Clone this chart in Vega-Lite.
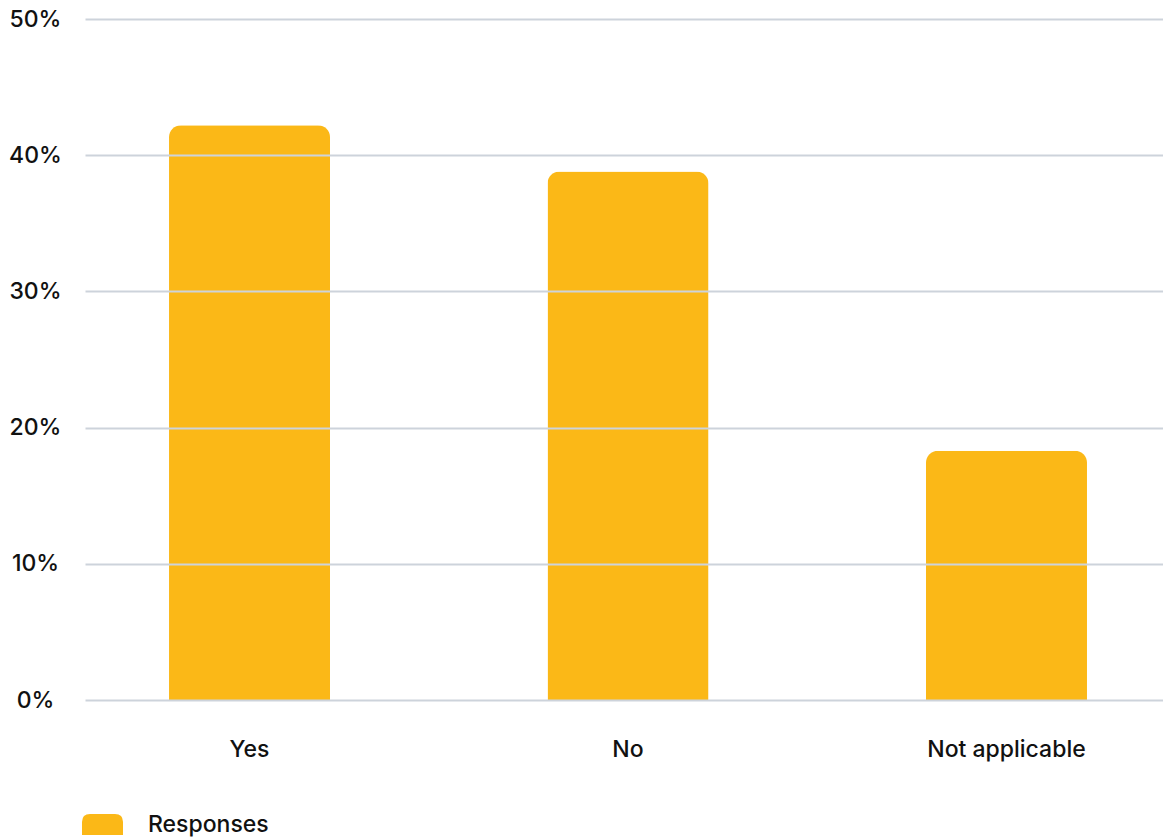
{
  "$schema": "https://vega.github.io/schema/vega-lite/v6.json",
  "autosize": {"type": "none"},
  "padding": {"left": 85, "top": 19, "right": 0, "bottom": 139},
  "width": 1078,
  "height": 681,
  "background": "white",
  "config": {
    "view": {"stroke": null},
    "font": "Inter",
    "axis": {"labelFont": "Inter", "labelColor": "#111111", "labelFontSize": 23, "labelFontWeight": 500},
    "legend": {"labelFont": "Inter", "labelColor": "#111111", "labelFontSize": 23, "labelFontWeight": 500}
  },
  "data": {
    "values": [
      {"answer": "Yes", "share": 0.422, "series": "Responses"},
      {"answer": "No", "share": 0.388, "series": "Responses"},
      {"answer": "Not applicable", "share": 0.183, "series": "Responses"}
    ]
  },
  "mark": {"type": "bar", "cornerRadiusTopLeft": 12, "cornerRadiusTopRight": 12},
  "encoding": {
    "x": {
      "field": "answer",
      "type": "nominal",
      "sort": null,
      "title": null,
      "scale": {"paddingInner": 0.5746, "paddingOuter": 0.2114, "align": 0.525},
      "axis": {"labelAngle": 0, "ticks": false, "domain": false, "labelPadding": 49, "labelBaseline": "middle"}
    },
    "y": {
      "field": "share",
      "type": "quantitative",
      "title": null,
      "scale": {"domain": [0, 0.5]},
      "axis": {
        "values": [0, 0.1, 0.2, 0.3, 0.4, 0.5],
        "format": "%",
        "ticks": false,
        "domain": false,
        "labelAlign": "center",
        "labelPadding": 50,
        "gridColor": "#CDD3DB",
        "gridWidth": 2,
        "gridOpacity": 1,
        "zindex": 1
      }
    },
    "color": {
      "field": "series",
      "type": "nominal",
      "scale": {"range": ["#FBB817"]},
      "legend": {
        "title": null,
        "orient": "none",
        "legendX": -3,
        "legendY": 785,
        "symbolType": "M-1,0.512 L-1,-0.122 Q-1,-0.512 -0.61,-0.512 L0.61,-0.512 Q1,-0.512 1,-0.122 L1,0.512 Z",
        "symbolSize": 1681,
        "symbolOpacity": 1,
        "symbolStrokeWidth": 0,
        "labelOffset": 25
      }
    }
  }
}
